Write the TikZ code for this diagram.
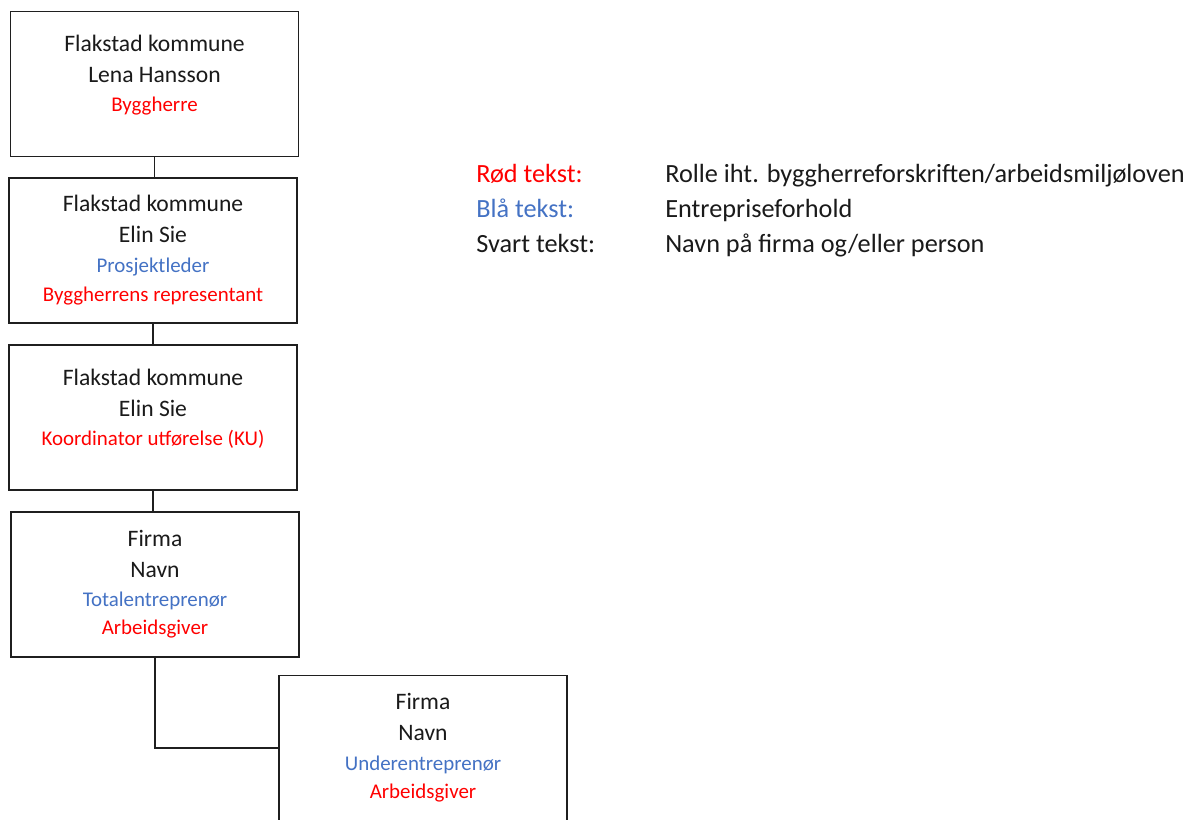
\documentclass[tikz,border=0pt]{standalone}
\usepackage{fontspec}
\setmainfont{Carlito}
\definecolor{txtblack}{HTML}{1A1A1A}
\definecolor{rolered}{HTML}{FF0000}
\definecolor{roleblue}{HTML}{4472C4}
\definecolor{linegray}{HTML}{1F1F1F}
\tikzset{
  orgbox/.style={draw=linegray, line width=1.15pt, rectangle, minimum width=288*0.75pt, minimum height=145*0.75pt, inner sep=0pt},
  conn/.style={draw=linegray, line width=1.1pt},
  bigtxt/.style={anchor=base, inner sep=0pt, text=txtblack, font=\fontsize{17.7}{21}\selectfont},
  redtxt/.style={anchor=base, inner sep=0pt, text=rolered, font=\fontsize{15.7}{19}\selectfont},
  bluetxt/.style={anchor=base, inner sep=0pt, text=roleblue, font=\fontsize{15.7}{19}\selectfont},
  legtxt/.style={anchor=base west, inner sep=0pt, font=\fontsize{19.7}{23}\selectfont},
}
\begin{document}
\begin{tikzpicture}[x=0.75pt, y=-0.75pt]
\clip (0,0) rectangle (1187,819);
\fill[white] (0,0) rectangle (1187,819);
% boxes
\node[orgbox] (b1) at (154.5,84) {};
\node[orgbox] (b2) at (153,250.5) {};
\node[orgbox] (b3) at (153,417.5) {};
\node[orgbox] (b4) at (155,584.5) {};
\node[orgbox] (b5) at (423,748) {};
% connectors
\draw[conn] (b1.south) -- (b1.south |- b2.north);
\draw[conn] (b2.south) -- (b2.south |- b3.north);
\draw[conn] (b3.south) -- (b3.south |- b4.north);
\draw[conn] (b4.south) |- (b5.west);
% box 1
\node[bigtxt] (t1a) at (154.5,51) {Flakstad kommune};
\node[bigtxt] (t1b) at (154.5,82) {Lena Hansson};
\node[redtxt] (t1c) at (154.5,111) {Byggherre};
% box 2
\node[bigtxt] (t2a) at (153,211.5) {Flakstad kommune};
\node[bigtxt] (t2b) at (153,242.5) {Elin Sie};
\node[bluetxt] (t2c) at (153,272.5) {Prosjektleder};
\node[redtxt] (t2d) at (153,301) {Byggherrens representant};
% box 3
\node[bigtxt] (t3a) at (153,385) {Flakstad kommune};
\node[bigtxt] (t3b) at (153,416) {Elin Sie};
\node[redtxt] (t3c) at (153,445) {Koordinator utførelse (KU)};
% box 4
\node[bigtxt] (t4a) at (155,546.5) {Firma};
\node[bigtxt] (t4b) at (155,577.5) {Navn};
\node[bluetxt] (t4c) at (155,606.5) {Totalentreprenør};
\node[redtxt] (t4d) at (155,634.5) {Arbeidsgiver};
% box 5
\node[bigtxt] (t5a) at (423,709) {Firma};
\node[bigtxt] (t5b) at (423,740) {Navn};
\node[bluetxt] (t5c) at (423,770) {Underentreprenør};
\node[redtxt] (t5d) at (423,798) {Arbeidsgiver};
% legend
\node[legtxt, text=rolered] (l1) at (476,182.5) {Rød tekst:};
\node[legtxt, text=roleblue] (l2) at (476,217) {Blå tekst:};
\node[legtxt, text=txtblack] (l3) at (476,252) {Svart tekst:};
\node[legtxt, text=txtblack] (d1) at (665,182.5) {Rolle iht. byggherreforskriften/arbeidsmiljøloven};
\node[legtxt, text=txtblack] (d2) at (665,217) {Entrepriseforhold};
\node[legtxt, text=txtblack] (d3) at (665,252) {Navn på firma og/eller person};
\end{tikzpicture}
\end{document}
